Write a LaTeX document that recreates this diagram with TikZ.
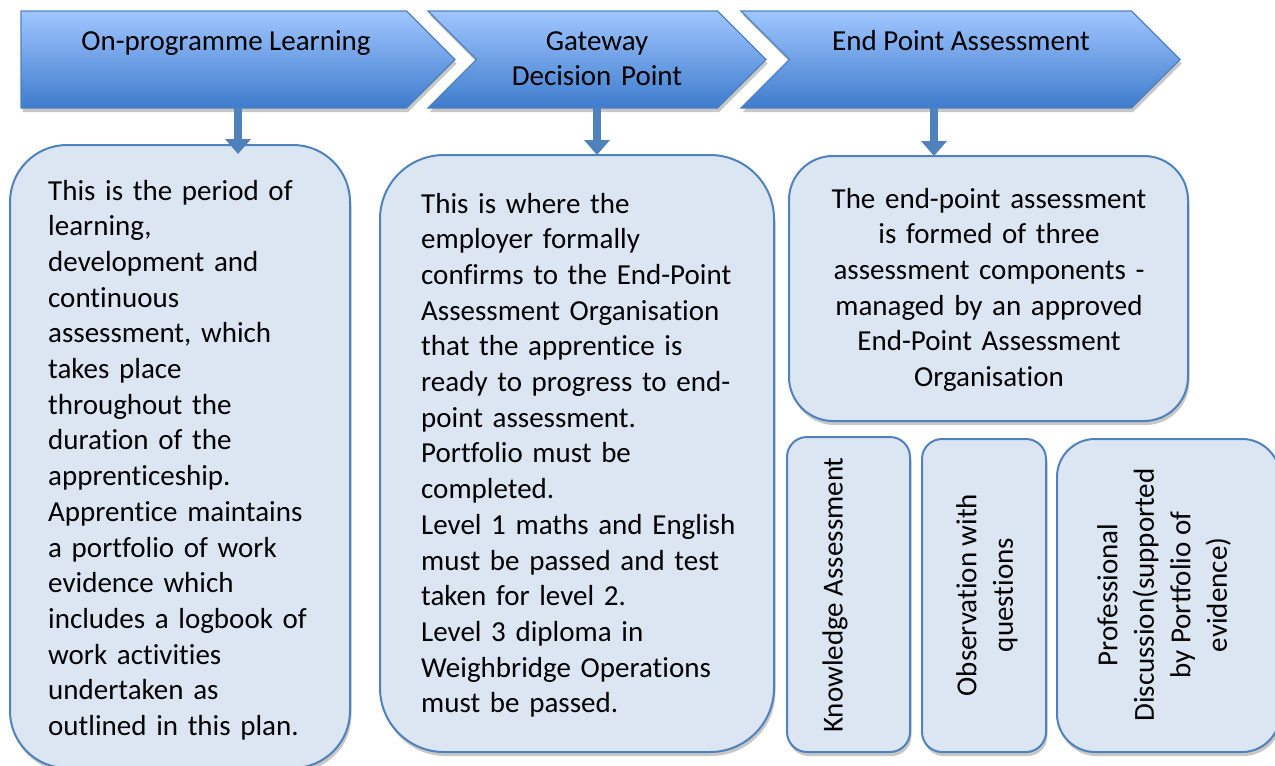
\documentclass[tikz,border=0pt]{standalone}
\usepackage{fontspec}
\setmainfont[Ligatures=NoCommon]{Carlito}
\usetikzlibrary{arrows.meta,shadows}
\definecolor{edge}{RGB}{79,129,189}
\definecolor{boxfill}{RGB}{220,230,242}
\definecolor{chevtop}{RGB}{160,198,255}
\definecolor{chevmid}{RGB}{122,166,236}
\definecolor{chevbot}{RGB}{62,124,204}
\begin{document}
\begin{tikzpicture}[x=1pt,y=-1pt,
  font=\fontsize{29}{35.7}\selectfont,
  softshadow/.style={drop shadow={shadow xshift=1.5pt, shadow yshift=-4pt, opacity=0.22, fill=black}},
  chev/.style={draw=edge, line width=1.2pt, top color=chevtop, middle color=chevmid, bottom color=chevbot, softshadow},
  card/.style={draw=edge, line width=2pt, fill=boxfill, inner sep=0pt, softshadow},
  lbl/.style={inner sep=0pt, anchor=base},
  para/.style={inner sep=0pt, anchor=base west, align=left, text width=#1},
  vlbl/.style={inner sep=0pt, rotate=90, align=center, font=\fontsize{29}{36.5}\selectfont},
  conn/.style={draw=edge, line width=8pt, -{Triangle[width=25pt,length=15pt]}}
]
\useasboundingbox (0,0) rectangle (1275,766);

% stage chevrons
\path[chev] (21,11) -- (406.5,11) -- (455,59.5) -- (406.5,108) -- (21,108) -- cycle;
\path[chev] (428,11) -- (717.5,11) -- (766,59.5) -- (717.5,108) -- (428,108) -- (476.5,59.5) -- cycle;
\path[chev] (741,11) -- (1131.5,11) -- (1180,59.5) -- (1131.5,108) -- (741,108) -- (789.5,59.5) -- cycle;

\node[lbl] (t1) at (226,50) {On-programme Learning};
\node[lbl, text width=260pt, align=center] (t2) at (597,50) {Gateway\\Decision Point};
\node[lbl] (t3) at (961,50) {End Point Assessment};

% description cards
\node[card, rounded corners=57pt, minimum width=340pt, minimum height=623pt] (b1) at (180,456.5) {};
\node[card, rounded corners=64pt, minimum width=394pt, minimum height=597pt] (b2) at (577,453.5) {};
\node[card, rounded corners=44pt, minimum width=399pt, minimum height=265pt] (b3) at (988.5,288.5) {};

% assessment components
\node[card, rounded corners=20pt, minimum width=123pt, minimum height=315pt] (k1) at (848.5,594.5) {};
\node[card, rounded corners=20pt, minimum width=124pt, minimum height=313pt] (k2) at (984,595.5) {};
\node[card, rounded corners=38pt, minimum width=223pt, minimum height=313pt] (k3) at (1168.5,595.5) {};

% connectors from each stage to its card
\coordinate (c1) at (238,108);
\coordinate (c2) at (597,108);
\coordinate (c3) at (934,108);
\coordinate (a1) at (238,154);
\coordinate (a2) at (597,155);
\coordinate (a3) at (934,156);
\draw[conn] (c1) -- (a1);
\draw[conn] (c2) -- (a2);
\draw[conn] (c3) -- (a3);

% card texts
\node[para=300pt] (p1) at (48,200) {This is the period of\\
learning,\\
development and\\
continuous\\
assessment, which\\
takes place\\
throughout the\\
duration of the\\
apprenticeship.\\
Apprentice maintains\\
a portfolio of work\\
evidence which\\
includes a logbook of\\
work activities\\
undertaken as\\
outlined in this plan.};

\node[para=340pt] (p2) at (421,213) {This is where the\\
employer formally\\
confirms to the End-Point\\
Assessment Organisation\\
that the apprentice is\\
ready to progress to end-\\
point assessment.\\
Portfolio must be\\
completed.\\
Level 1 maths and English\\
must be passed and test\\
taken for level 2.\\
Level 3 diploma in\\
Weighbridge Operations\\
must be passed.};

\node[lbl, text width=390pt, align=center] (p3) at (989,208) {The end-point assessment\\
is formed of three\\
assessment components -\\
managed by an approved\\
End-Point Assessment\\
Organisation};

\node[vlbl] (v1) at (835,595) {Knowledge Assessment};
\node[vlbl] (v2) at (987,595) {Observation with\\questions};
\node[vlbl] (v3) at (1164,595) {Professional\\Discussion(supported\\by Portfolio of\\evidence)};
\end{tikzpicture}
\end{document}
